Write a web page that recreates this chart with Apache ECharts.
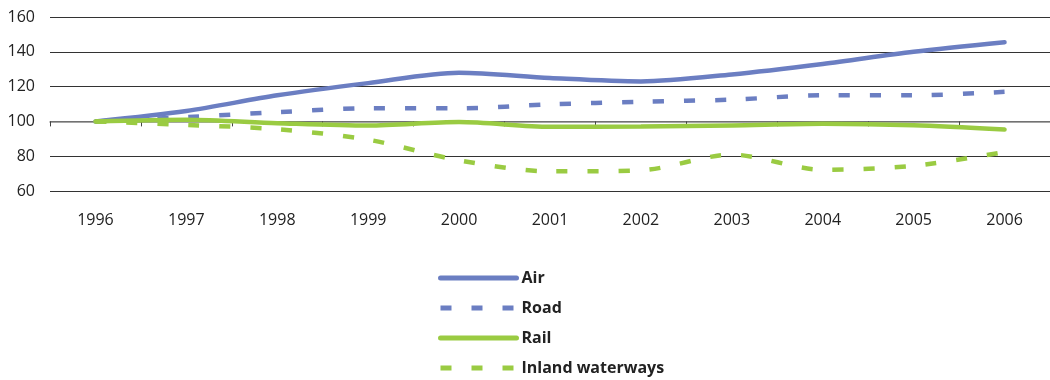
<!DOCTYPE html>
<html>
<head>
<meta charset="utf-8">
<script src="https://cdn.jsdelivr.net/npm/echarts@6/dist/echarts.min.js"></script>
<style>
  html, body { margin: 0; padding: 0; background: #fff; }
  #chart { width: 1050px; height: 380px; }
</style>
</head>
<body>
<div id="chart"></div>
<script>
// Freight transport index by mode, 1996 = 100
const years = ['1996', '1997', '1998', '1999', '2000', '2001', '2002', '2003', '2004', '2005', '2006'];
const air = [100, 106, 115, 122, 128, 125, 123, 127, 133, 140, 145.5];
const road = [100, 102.5, 105.3, 107.5, 107.5, 109.8, 111.3, 112.5, 115, 115, 117];
const rail = [100, 101, 99, 97.6, 99.6, 96.9, 97, 97.7, 98.7, 97.8, 95.3];
const inlandWaterways = [100, 98, 95.5, 89.5, 77.6, 71.3, 71.9, 80.9, 72.2, 74.5, 82.4];
const yTicks = [60, 80, 100, 120, 140, 160];

const BLUE = '#6b7ec2';
const GREEN = '#9acb42';
const FONT = '"Open Sans", "Noto Sans", sans-serif';

const yMin = yTicks[0], yMax = yTicks[yTicks.length - 1];
const gridTop = 17, gridHeight = 174;
// the base line sits at index 100, above the bottom of the plot
const baseOffset = -gridHeight * (100 - yMin) / (yMax - yMin);

function lineSeries(name, data, color, dashed) {
  return {
    name: name,
    type: 'line',
    data: data,
    smooth: 0.3,
    symbol: 'none',
    xAxisIndex: 0,
    lineStyle: {
      color: color,
      width: 4.5,
      type: dashed ? [11, 20] : 'solid',
      cap: dashed ? 'butt' : 'round'
    },
    itemStyle: { color: color }
  };
}

const chart = echarts.init(document.getElementById('chart'), null, { renderer: 'canvas' });
chart.setOption({
  animation: false,
  backgroundColor: '#fff',
  grid: { left: 50, right: 0, top: gridTop, height: gridHeight },
  legend: {
    orient: 'vertical',
    left: 433,
    top: 262,
    height: 125,
    itemWidth: 76,
    itemHeight: 12,
    itemGap: 8,
    itemStyle: { opacity: 0 },
    lineStyle: { width: 5 },
    textStyle: { fontFamily: FONT, fontWeight: 'bold', fontSize: 16, color: '#222', lineHeight: 22 },
    data: ['Air', 'Road', 'Rail', 'Inland waterways']
  },
  xAxis: [
    {
      type: 'category',
      data: years,
      boundaryGap: true,
      position: 'bottom',
      axisLine: { show: false },
      axisTick: { show: false },
      axisLabel: { fontFamily: FONT, fontSize: 16, color: '#222', margin: 21 }
    },
    {
      type: 'category',
      data: years,
      boundaryGap: true,
      position: 'bottom',
      offset: baseOffset,
      axisLine: { show: true, lineStyle: { color: '#888', width: 1.5 } },
      axisTick: { show: true, length: 5, lineStyle: { color: '#444', width: 1 } },
      axisLabel: { show: false }
    }
  ],
  yAxis: {
    type: 'value',
    min: yMin,
    max: yMax,
    interval: 20,
    axisLine: { show: false },
    axisTick: { show: false },
    axisLabel: { fontFamily: FONT, fontSize: 16, color: '#222', margin: 15 },
    splitLine: { lineStyle: { color: '#333', width: 1 } }
  },
  series: [
    lineSeries('Air', air, BLUE, false),
    lineSeries('Road', road, BLUE, true),
    lineSeries('Rail', rail, GREEN, false),
    lineSeries('Inland waterways', inlandWaterways, GREEN, true)
  ]
});
</script>
</body>
</html>
